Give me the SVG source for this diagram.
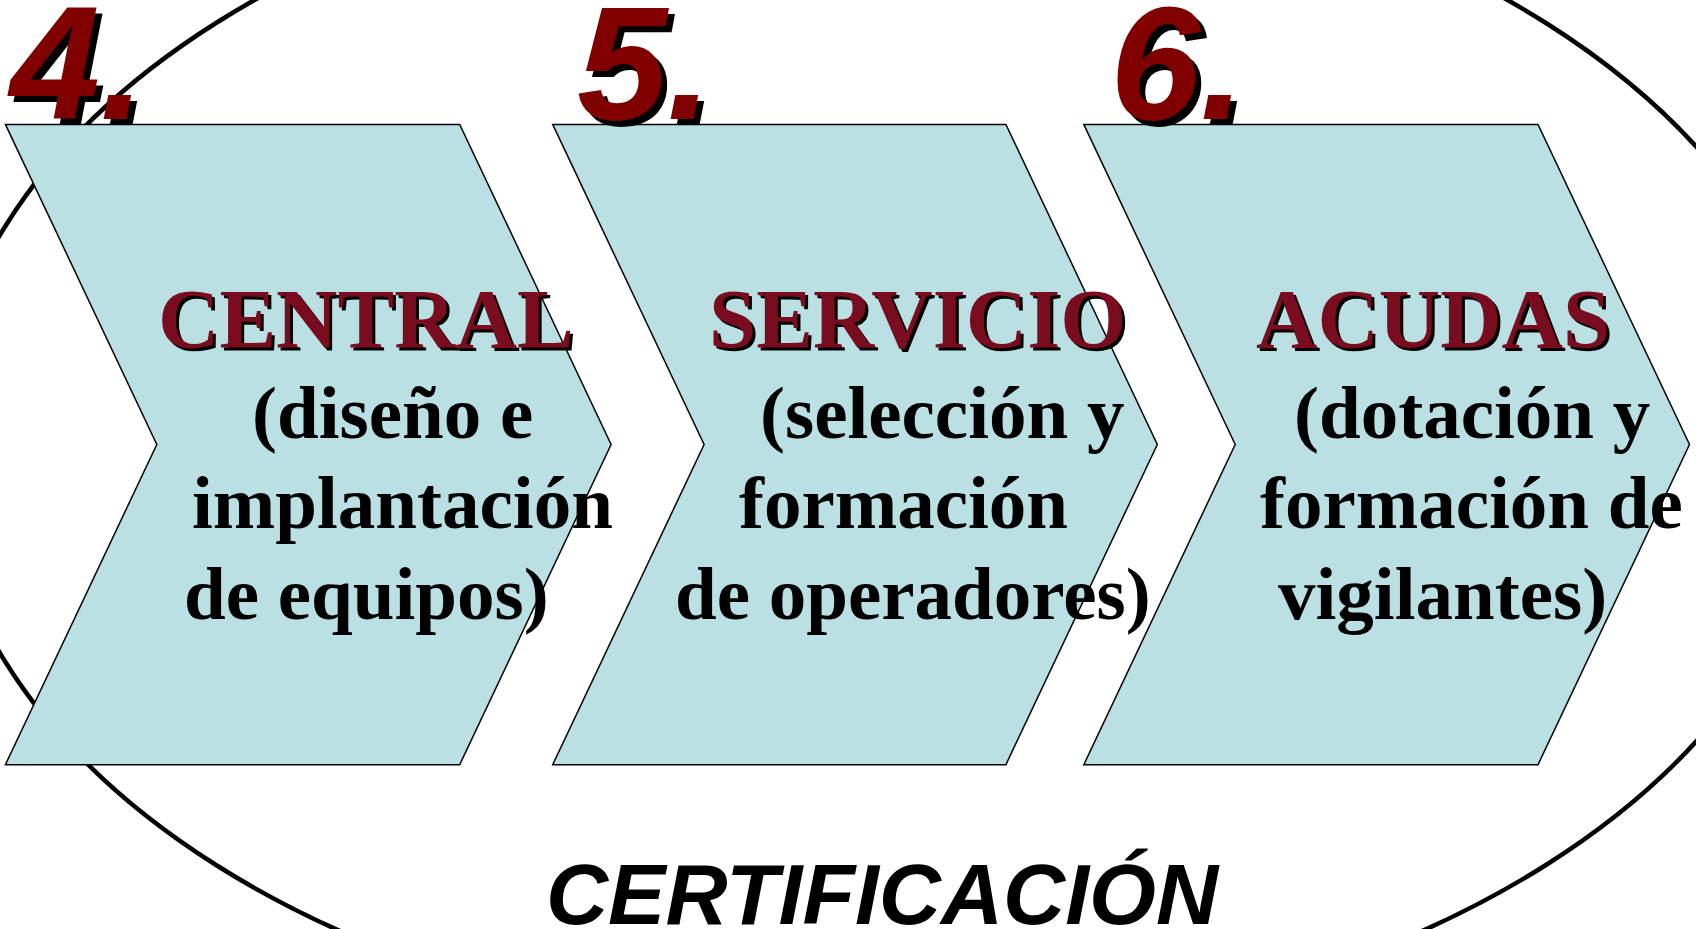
<svg xmlns="http://www.w3.org/2000/svg" width="1696" height="929" viewBox="0 0 1696 929">
<style>
.chev{fill:#bbe0e3;stroke:#000;stroke-width:1.5}
.num{font-family:"Liberation Sans",Arial,sans-serif;font-weight:bold;font-style:italic;font-size:162px}
.numf{fill:#800000}
.nums{fill:#000}
.ttl{font-family:"Liberation Serif","Times New Roman",serif;font-weight:bold;font-size:85px}
.ttlf{fill:#7a0c1f}
.body{font-family:"Liberation Serif","Times New Roman",serif;font-weight:bold;font-size:75px;fill:#000}
.cert{font-family:"Liberation Sans",Arial,sans-serif;font-weight:bold;font-style:italic;font-size:86px;fill:#000}
</style>
<rect width="1696" height="929" fill="#fff"/>
<g id="connectors">
<ellipse cx="881" cy="444" rx="941" ry="595" fill="none" stroke="#000" stroke-width="4.5"/>
</g>
<g id="step4">
<polygon class="chev" points="5.4,124.4 459.7,124.4 611.1,444.5 459.7,764.7 5.4,764.7 156.8,444.5"/>
<text class="num nums" x="16" y="125">4.</text>
<text class="num numf" x="10" y="119">4.</text>
<text class="ttl" x="161" y="351">CENTRAL</text>
<text class="ttl ttlf" x="158" y="348">CENTRAL</text>
<text class="body" x="252" y="438">(diseño e</text>
<text class="body" x="192" y="528">implantación</text>
<text class="body" x="184" y="619">de equipos)</text>
</g>
<g id="step5">
<polygon class="chev" points="552.7,124.4 1005.9,124.4 1157.3,444.5 1005.9,764.7 552.7,764.7 704.1,444.5"/>
<text class="num nums" x="583" y="125">5.</text>
<text class="num numf" x="577" y="119">5.</text>
<text class="ttl" x="712" y="351">SERVICIO</text>
<text class="ttl ttlf" x="709" y="348">SERVICIO</text>
<text class="body" x="760" y="438">(selección y</text>
<text class="body" x="739" y="528">formación</text>
<text class="body" x="675" y="619">de operadores)</text>
</g>
<g id="step6">
<polygon class="chev" points="1083.8,124.4 1538,124.4 1689.5,444.5 1538,764.7 1083.8,764.7 1235.2,444.5"/>
<text class="num nums" x="1116" y="125">6.</text>
<text class="num numf" x="1110" y="119">6.</text>
<text class="ttl" x="1259" y="351">ACUDAS</text>
<text class="ttl ttlf" x="1256" y="348">ACUDAS</text>
<text class="body" x="1294" y="438">(dotación y</text>
<text class="body" x="1260" y="528">formación de</text>
<text class="body" x="1278" y="619">vigilantes)</text>
</g>
<g id="certificacion">
<text class="cert" x="546" y="924">CERTIFICACIÓN</text>
</g>
</svg>
